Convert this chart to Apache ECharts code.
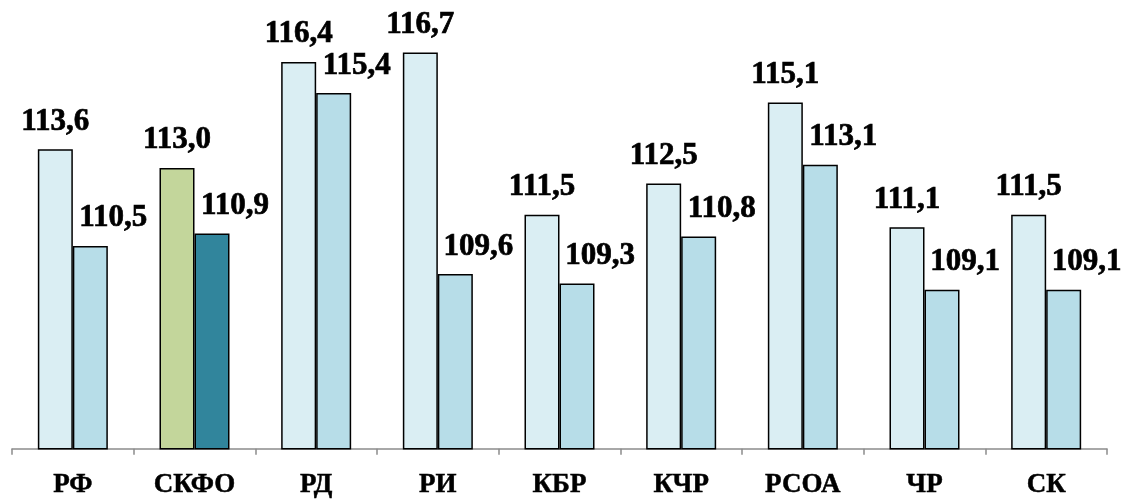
<!DOCTYPE html>
<html>
<head>
<meta charset="utf-8">
<script src="https://cdn.jsdelivr.net/npm/echarts@6/dist/echarts.min.js"></script>
<style>
html,body{margin:0;padding:0;background:#fff;}
#chart{width:1130px;height:499px;}
</style>
</head>
<body>
<div id="chart"></div>
<script>
const categories = ['РФ', 'СКФО', 'РД', 'РИ', 'КБР', 'КЧР', 'РСОА', 'ЧР', 'СК'];
const series1 = [113.6, 113.0, 116.4, 116.7, 111.5, 112.5, 115.1, 111.1, 111.5];
const series2 = [110.5, 110.9, 115.4, 109.6, 109.3, 110.8, 113.1, 109.1, 109.1];
const highlightIndex = 1;

const chart = echarts.init(document.getElementById('chart'));
const fmt = p => p.value.toFixed(1).replace('.', ',');
const labelFont = {fontFamily: '"Liberation Serif", "Times New Roman", serif', fontWeight: 'bold', fontSize: 31, color: '#000', textBorderColor: '#000', textBorderWidth: 0.7};

function build(values, base, hi) {
  return values.map((v, i) => ({
    value: v,
    itemStyle: {color: i === highlightIndex ? hi : base}
  }));
}

chart.setOption({
  animation: false,
  grid: {left: 12, right: 23, top: 12, bottom: 42},
  xAxis: {
    type: 'category',
    data: categories,
    axisLine: {lineStyle: {color: '#8c8c8c', width: 1.5}},
    axisTick: {show: true, length: 6, lineStyle: {color: '#8c8c8c', width: 1.5}},
    axisLabel: {margin: 23, fontFamily: '"Liberation Serif", "Times New Roman", serif', fontWeight: 'bold', fontSize: 27, color: '#000', textBorderColor: '#000', textBorderWidth: 0.5}
  },
  yAxis: {type: 'value', min: 104, max: 118, show: false, splitLine: {show: false}},
  series: [
    {
      type: 'bar', data: build(series1, '#daeef3', '#c3d69b'),
      barWidth: 35, barGap: '0%',
      itemStyle: {borderColor: '#000', borderWidth: 1.5},
      label: Object.assign({show: true, position: 'top', distance: 12, formatter: fmt}, labelFont)
    },
    {
      type: 'bar', data: build(series2, '#b7dde8', '#31859c'),
      barWidth: 35, barGap: '0%',
      itemStyle: {borderColor: '#000', borderWidth: 1.5},
      label: Object.assign({show: true, position: 'top', distance: 12, offset: [23, 0], formatter: fmt}, labelFont)
    }
  ]
});
</script>
</body>
</html>
